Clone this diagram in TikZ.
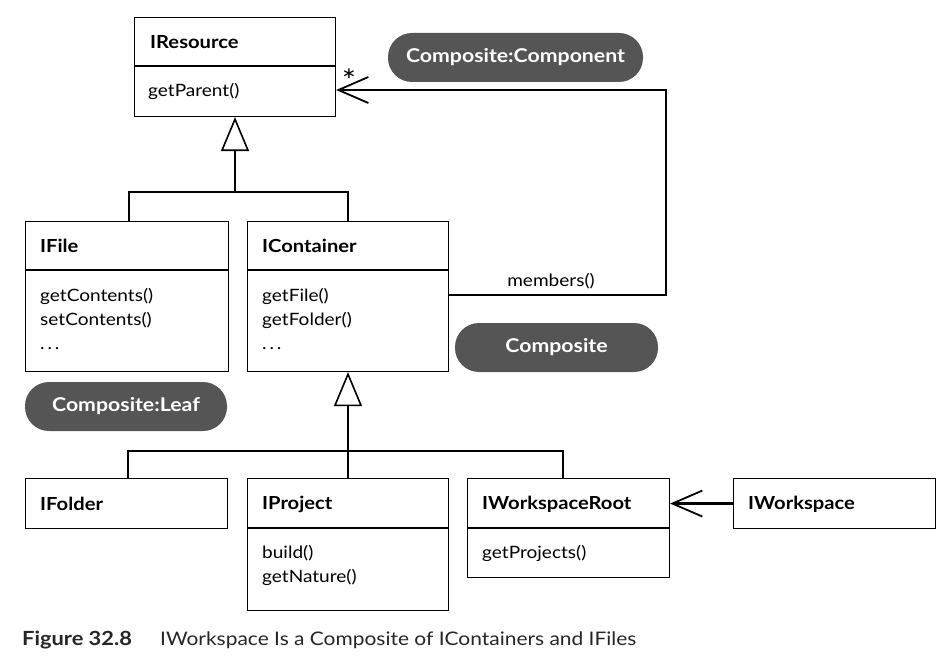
\documentclass[tikz,border=0pt]{standalone}
\usepackage{fontspec}
\setmainfont{Lato}[FakeStretch=1.12]
\usetikzlibrary{arrows.meta}
\definecolor{pill}{HTML}{555555}
\begin{document}
\begin{tikzpicture}[x=1pt,y=-1pt,
  box/.style={draw=black, line width=1.1pt, anchor=north west, inner sep=0pt},
  ttl/.style={anchor=west, font=\fontsize{18}{20}\selectfont\bfseries, inner sep=0pt},
  mem/.style={anchor=north west, font=\fontsize{17}{24}\selectfont, inner sep=0pt, align=left},
  pillbox/.style={fill=pill, text=white, rounded corners=24pt, minimum height=49pt, font=\fontsize{19}{20}\selectfont\bfseries, inner sep=0pt},
  conn/.style={line width=2.2pt, line cap=butt},
  inh/.style={line width=2.2pt, -{Triangle[open, length=34pt, width=28pt, line width=1.6pt]}},
  assoc/.style={line width=2.2pt, -{Straight Barb[length=30pt, width=26pt, line width=1.8pt]}}
]
\useasboundingbox (0,0) rectangle (950,660);

% IResource
\node[box, minimum width=201pt, minimum height=99pt] (res) at (134,17) {};
\draw[line width=1.1pt] (134,66) -- (335,66);
\node[ttl] (resT) at (150,42) {IResource};
\node[mem] (resM) at (148,83) {getParent()};

% IFile
\node[box, minimum width=203pt, minimum height=150pt] (file) at (25,221) {};
\draw[line width=1.1pt] (25,270) -- (228,270);
\node[ttl] (fileT) at (40,246) {IFile};
\node[mem] (fileM) at (40,288) {getContents()\\setContents()\\.\,.\,.};

% IContainer
\node[box, minimum width=201pt, minimum height=150pt] (cont) at (247,221) {};
\draw[line width=1.1pt] (247,270) -- (448,270);
\node[ttl] (contT) at (262,246) {IContainer};
\node[mem] (contM) at (262,288) {getFile()\\getFolder()\\.\,.\,.};

% IFolder
\node[box, minimum width=202pt, minimum height=50pt] (folder) at (25,478) {};
\node[ttl] (folderT) at (40,504) {IFolder};

% IProject
\node[box, minimum width=201pt, minimum height=132pt] (proj) at (247,478) {};
\draw[line width=1.1pt] (247,528) -- (448,528);
\node[ttl] (projT) at (262,504) {IProject};
\node[mem] (projM) at (262,545) {build()\\getNature()};

% IWorkspaceRoot
\node[box, minimum width=202pt, minimum height=99pt] (root) at (467,478) {};
\draw[line width=1.1pt] (467,528) -- (669,528);
\node[ttl] (rootT) at (482,504) {IWorkspaceRoot};
\node[mem] (rootM) at (482,545) {getProjects()};

% IWorkspace
\node[box, minimum width=202pt, minimum height=50pt] (ws) at (733,478) {};
\node[ttl] (wsT) at (748,504) {IWorkspace};

% pills
\node[pillbox, minimum width=255pt] (pComp) at (515.5,57.5) {Composite:Component};
\node[pillbox, minimum width=203pt] (pCompo) at (556.5,347.5) {Composite};
\node[pillbox, minimum width=202pt] (pLeaf) at (126,406.5) {Composite:Leaf};

% generalization 1
\coordinate (b1) at (235,192);
\draw[conn] (file.north -| 129,0) |- (b1);
\draw[conn] (cont.north -| 348,0) |- (b1);
\draw[inh] (b1) -- (res.south -| b1);

% generalization 2
\coordinate (b2) at (348,451);
\draw[conn] (folder.north -| 128,0) |- (b2);
\draw[conn] (root.north -| 563,0) |- (b2);
\draw[conn] (proj.north -| b2) -- (b2);
\draw[inh] (b2) -- (cont.south -| b2);

% members association
\coordinate (m1) at (666,295);
\coordinate (m2) at (666,90);
\draw[assoc] (cont.east |- m1) -- (m1) -- (m2) -- (res.east |- m2);
\node[font=\fontsize{17}{20}\selectfont, anchor=south, inner sep=0pt] (memL) at (551,289) {members()};
\node[font=\fontsize{30}{30}\selectfont, inner sep=0pt] (star) at (349,80) {*};

% workspace association
\draw[assoc] (ws.west) -- (root.east |- ws.west);

% caption
\node[anchor=base west, inner sep=0pt, font=\fontsize{19.5}{20}\selectfont\bfseries, text=black!85] (capA) at (22,645) {Figure 32.8};
\node[anchor=base west, inner sep=0pt, font=\fontsize{18.7}{20}\selectfont, text=black!85] (capB) at (160,645) {IWorkspace Is a Composite of IContainers and IFiles};
\end{tikzpicture}
\end{document}
